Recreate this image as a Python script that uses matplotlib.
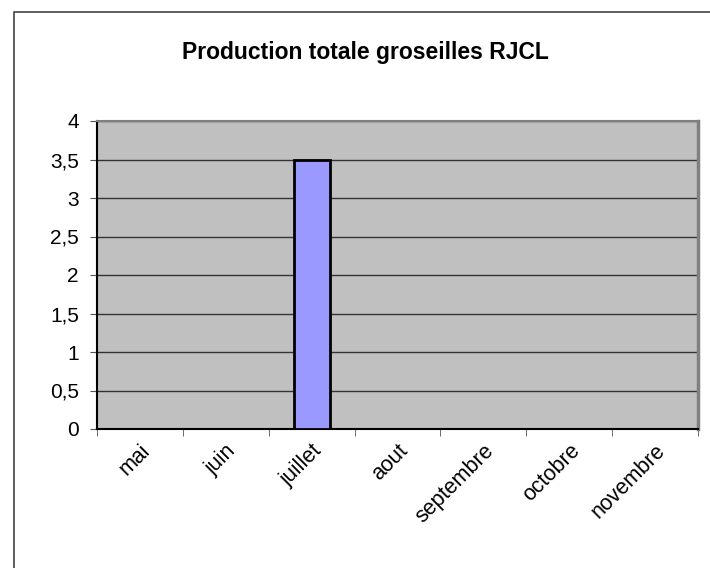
import numpy as np
import matplotlib
matplotlib.use('Agg')
from matplotlib import pyplot as plt
from matplotlib.lines import Line2D

plt.rcParams['font.family'] = ['Liberation Sans', 'DejaVu Sans']

months = ['mai', 'juin', 'juillet', 'aout', 'septembre', 'octobre', 'novembre']
production = [0, 0, 3.5, 0, 0, 0, 0]
y_ticks = [0, 0.5, 1, 1.5, 2, 2.5, 3, 3.5, 4]
y_labels = ['0', '0,5', '1', '1,5', '2', '2,5', '3', '3,5', '4']

fig = plt.figure(figsize=(7.1, 5.68), dpi=100)
ax = fig.add_axes([97 / 710, 1 - 429 / 568, 601 / 710, 308 / 568])
ax.set_facecolor('#C0C0C0')

x = np.arange(len(months))
ax.bar(x, production, width=0.42, color='#9999FF', edgecolor='black',
       linewidth=2, zorder=3)

ax.set_xlim(-0.5, len(months) - 0.5)
ax.set_ylim(0, 4)
ax.set_yticks(y_ticks)
ax.set_yticklabels(y_labels, fontsize=15)
ax.yaxis.grid(True, color='#333333', linewidth=1)
ax.set_axisbelow(True)

# category labels at centers, tick marks at boundaries
ax.set_xticks(x)
ax.set_xticklabels(months, rotation=45, ha='right', rotation_mode='anchor',
                   fontsize=15.5)
ax.tick_params(axis='x', length=0, pad=8)
ax.set_xticks(np.arange(len(months) + 1) - 0.5, minor=True)
ax.tick_params(axis='x', which='minor', length=5, color='#555555')
ax.tick_params(axis='y', length=5, color='#555555', pad=8)

ax.spines['left'].set_color('black')
ax.spines['left'].set_linewidth(1.5)
ax.spines['bottom'].set_color('black')
ax.spines['bottom'].set_linewidth(1.5)
ax.spines['top'].set_color('#808080')
ax.spines['top'].set_linewidth(1.5)
ax.spines['right'].set_color('#808080')
ax.spines['right'].set_linewidth(2.5)

fig.text(365 / 710, 1 - 52 / 568, 'Production totale groseilles RJCL',
         ha='center', va='center', fontsize=16.5, fontweight='bold')

# outer chart border (left and top visible)
fig.add_artist(Line2D([13.5 / 710, 13.5 / 710, 1], [0, 1 - 11.5 / 568, 1 - 11.5 / 568],
                      transform=fig.transFigure, color='#444444', linewidth=1.2))

fig.savefig('out.png', dpi=100)
